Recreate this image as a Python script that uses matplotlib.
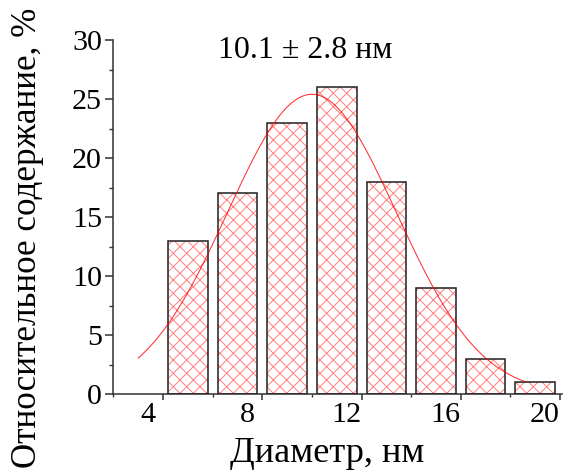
"""
Гистограмма распределения частиц по диаметру с гауссовой аппроксимацией
"""

import matplotlib
matplotlib.use("Agg")
import matplotlib.pyplot as plt
import matplotlib.transforms as mtransforms
from matplotlib.ticker import MultipleLocator
import numpy as np

# данные
diameter = [5, 7, 9, 11, 13, 15, 17, 19]          # центры интервалов, нм
share = [13, 17, 23, 26, 18, 9, 3, 1]             # относительное содержание, %
bar_width = 1.6

# параметры гауссовой аппроксимации
fit_center = 10.0
fit_sigma = 3.4
fit_amp = 25.4
fit_range = (3.0, 18.6)

xticks = [4, 8, 12, 16, 20]
yticks = [0, 5, 10, 15, 20, 25, 30]
annotation = "10.1 ± 2.8 нм"
xlabel = "Диаметр, нм"
ylabel = "Относительное содержание, %"

# шаг штриховки 'xx' = dpi/6 px; при dpi=80 ~13 px, как в оригинале
DPI = 80
plt.rcParams["font.family"] = ["Liberation Serif", "DejaVu Serif"]
plt.rcParams["hatch.linewidth"] = 0.9

fig = plt.figure(figsize=(563 / DPI, 476 / DPI), dpi=DPI)
ax = fig.add_axes([113 / 563, 1 - 394 / 476, 449 / 563, 354 / 476])

# штриховка красным, контур чёрным
ax.bar(diameter, share, width=bar_width, facecolor="white", edgecolor="#ff8080",
       hatch="xx", linewidth=0, zorder=2)
ax.bar(diameter, share, width=bar_width, fill=False, edgecolor="#222222",
       linewidth=1.4, zorder=3)

xs = np.linspace(fit_range[0], fit_range[1], 300)
ax.plot(xs, fit_amp * np.exp(-(xs - fit_center) ** 2 / (2 * fit_sigma ** 2)),
        color="red", lw=0.95, alpha=0.8, zorder=4)

ax.set_xlim(1.98, 20.08)
ax.set_ylim(0, 30)
ax.set_xticks(xticks)
ax.set_yticks(yticks)
ax.xaxis.set_minor_locator(MultipleLocator(2))
ax.yaxis.set_minor_locator(MultipleLocator(2.5))

for side in ["top", "right"]:
    ax.spines[side].set_visible(False)
for side in ["left", "bottom"]:
    ax.spines[side].set_color("#333333")
    ax.spines[side].set_linewidth(1.4)

ax.tick_params(axis="both", which="major", direction="out", length=6.9, width=1.4,
               color="#333333", labelsize=27)
ax.tick_params(axis="both", which="minor", direction="out", length=3.8, width=1.25,
               color="#333333")
ax.tick_params(axis="y", which="major", pad=3.1)
ax.tick_params(axis="x", which="major", pad=1.9, length=5.7)
ax.tick_params(axis="x", which="minor", length=3.1)

# подписи по оси X в оригинале сдвинуты влево относительно рисок
shift = mtransforms.ScaledTranslation(-15 / DPI, 0, fig.dpi_scale_trans)
for lab in ax.get_xticklabels():
    lab.set_transform(lab.get_transform() + shift)

fig.text(305 / 563, 1 - 58 / 476, annotation, ha="center", va="baseline", fontsize=28.7)
fig.text(327 / 563, 1 - 462 / 476, xlabel, ha="center", va="baseline", fontsize=32.6)
fig.text(28 / 563, 0.501, ylabel, ha="center", va="center", rotation=90, fontsize=31.5)

fig.savefig("out.png", dpi=DPI)
plt.close(fig)
